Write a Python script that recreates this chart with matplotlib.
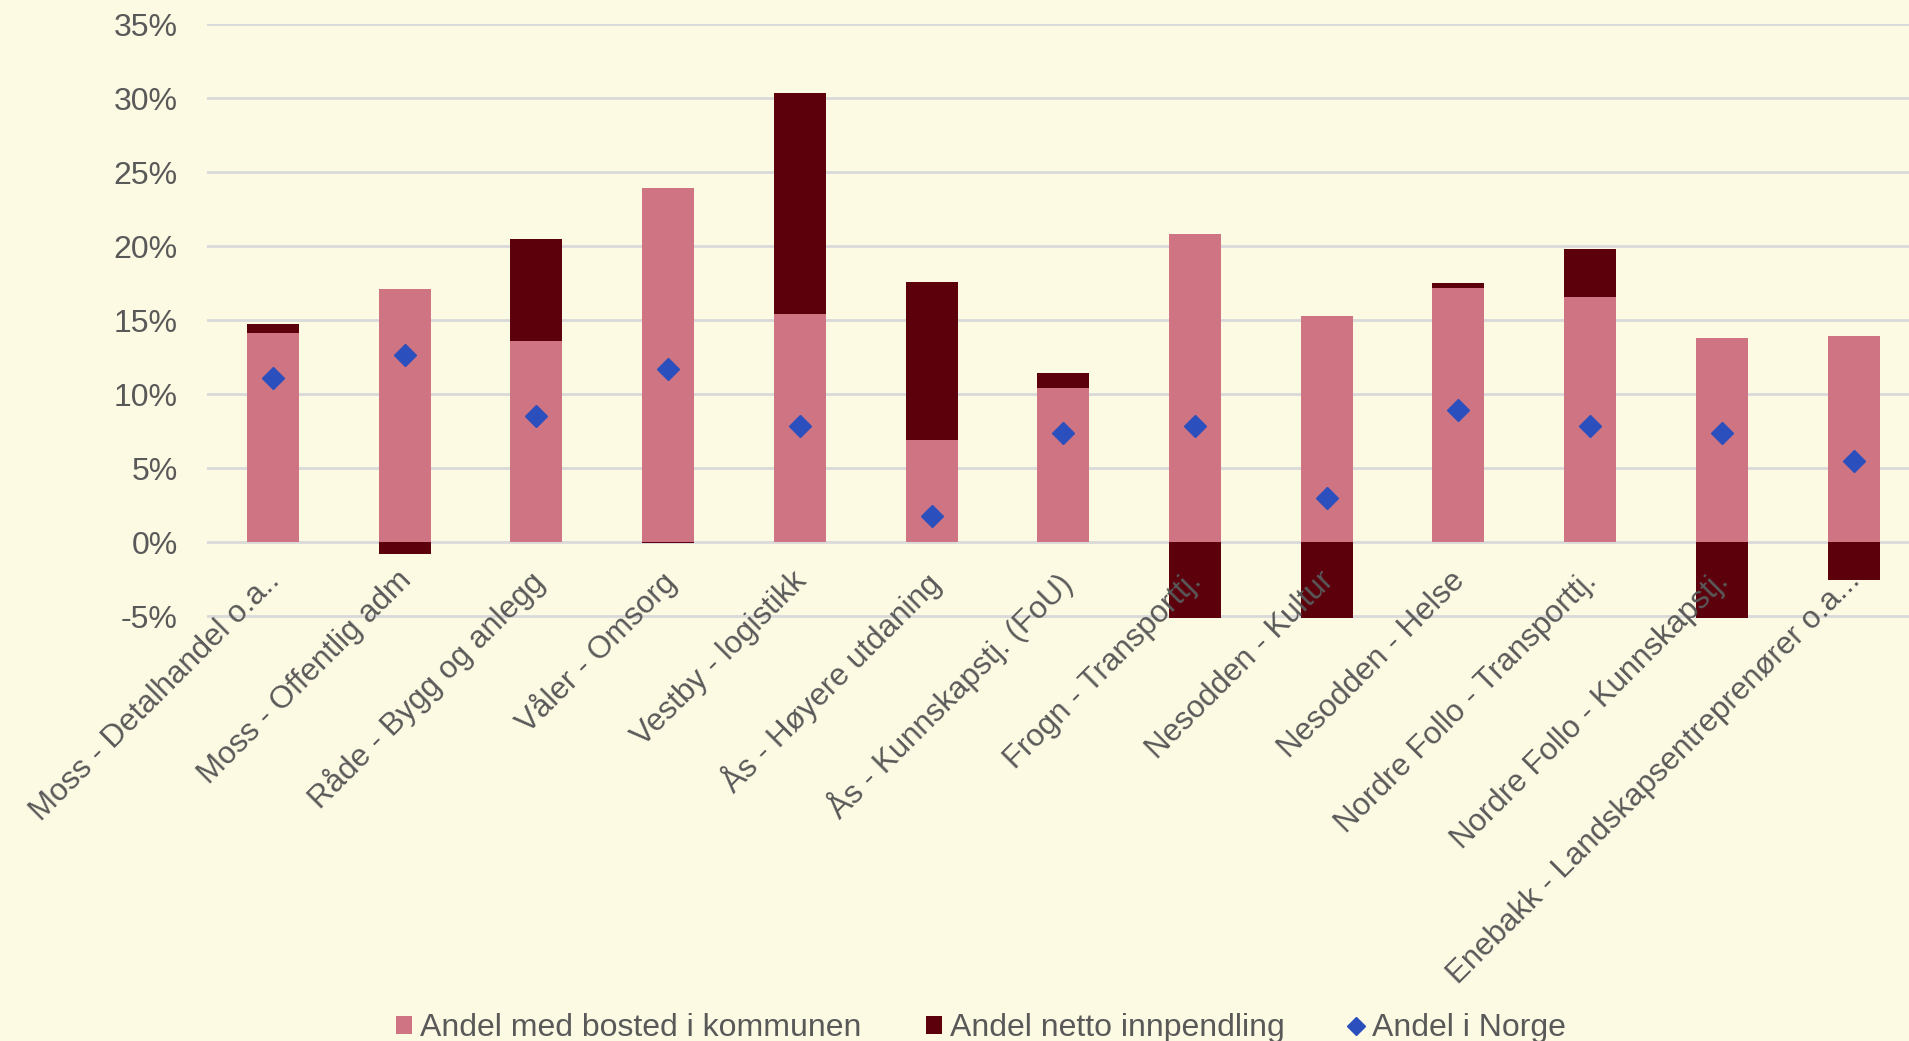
import numpy as np
import matplotlib.pyplot as plt
import matplotlib.transforms as mtransforms
from matplotlib.patches import Patch
from matplotlib.lines import Line2D
from matplotlib.ticker import PercentFormatter

plt.rcParams['font.family'] = ['Liberation Sans', 'DejaVu Sans']
plt.rcParams['axes.unicode_minus'] = False

# Kategorier og verdier (prosent)
kategorier = [
    'Moss - Detalhandel o.a..',
    'Moss - Offentlig adm',
    'Råde - Bygg og anlegg',
    'Våler - Omsorg',
    'Vestby - logistikk',
    'Ås - Høyere utdaning',
    'Ås - Kunnskapstj. (FoU)',
    'Frogn - Transporttj.',
    'Nesodden - Kultur',
    'Nesodden - Helse',
    'Nordre Follo - Transporttj.',
    'Nordre Follo - Kunnskapstj.',
    'Enebakk - Landskapsentreprenører o.a...',
]
bosted = [14.1, 17.1, 13.6, 23.9, 15.4, 6.9, 10.4, 20.8, 15.3, 17.15, 16.55, 13.8, 13.95]
innpendling = [0.6, -0.8, 6.9, -0.1, 14.95, 10.7, 1.0, -5.2, -5.2, 0.35, 3.25, -5.2, -2.6]
norge = [11.05, 12.65, 8.5, 11.7, 7.85, 1.75, 7.35, 7.85, 2.95, 8.9, 7.85, 7.35, 5.45]

rosa = '#CE7483'
morkrod = '#5C000C'
bla = '#2B50BE'
bakgrunn = '#FDFAE3'
tekst = '#595959'
rutenett = '#D9D9D9'

bosted = np.array(bosted)
innpendling = np.array(innpendling)
x = np.arange(len(kategorier))

fig = plt.figure(figsize=(19.09, 10.41), dpi=100, facecolor=bakgrunn)
ax = fig.add_axes([207/1909, 1 - 617.5/1041, 1 - 207/1909, 593.5/1041])
ax.set_facecolor(bakgrunn)

# stablet: negativ innpendling starter på 0, positiv oppå bosted
bunn = np.where(innpendling >= 0, bosted, 0)
ax.bar(x, bosted, width=0.395, color=rosa, zorder=2)
ax.bar(x, innpendling, bottom=bunn, width=0.395, color=morkrod, zorder=2)
ax.plot(x, norge, linestyle='none', marker='D', markersize=11.5, color=bla, zorder=4)

ax.set_ylim(-5.1, 35)
ax.set_xlim(-0.5, 12.42)
ax.set_yticks(np.arange(-5, 36, 5))
ax.yaxis.set_major_formatter(PercentFormatter(decimals=0))
ax.grid(axis='y', color=rutenett, linewidth=2)
ax.set_axisbelow(True)

for s in ax.spines.values():
    s.set_visible(False)
ax.spines['bottom'].set_position(('data', 0))
ax.xaxis.set_zorder(5)

ax.set_xticks(x)
ax.set_xticklabels(kategorier, rotation=45, ha='right', va='top', rotation_mode='anchor')
ax.tick_params(axis='x', length=0, pad=17, labelsize=22.5, labelcolor=tekst)
ax.tick_params(axis='y', length=0, pad=21, labelsize=23, labelcolor=tekst)

# flytt kategorietikettene litt til venstre
forskyv = mtransforms.ScaledTranslation(-6/72, 0, fig.dpi_scale_trans)
for lab in ax.get_xticklabels():
    lab.set_transform(lab.get_transform() + forskyv)

handles = [
    Patch(facecolor=rosa, label='Andel med bosted i kommunen'),
    Patch(facecolor=morkrod, label='Andel netto innpendling'),
    Line2D([], [], linestyle='none', marker='D', markersize=9, color=bla, label='Andel i Norge'),
]
fig.legend(handles=handles, loc='lower center', bbox_to_anchor=(0.514, -0.03), ncol=3,
           frameon=False, fontsize=23, labelcolor=tekst, handlelength=0.5,
           handleheight=0.5, handletextpad=0.25, columnspacing=2.0)

fig.savefig('out.png', dpi=100, facecolor=bakgrunn)
